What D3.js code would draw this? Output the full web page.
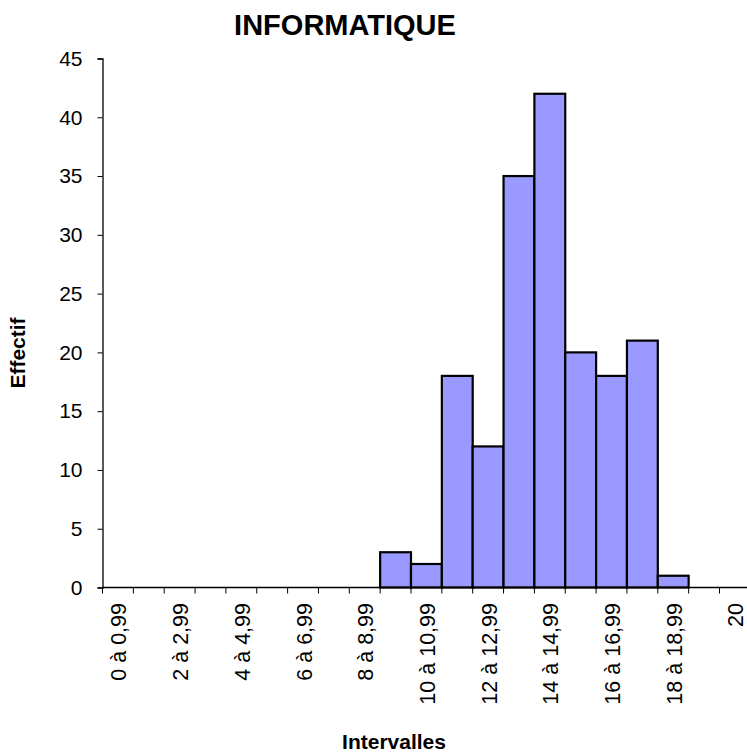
<!DOCTYPE html>
<html><head><meta charset="utf-8">
<script src="https://cdn.jsdelivr.net/npm/d3@7"></script>
<style>body{margin:0;background:#fff;} text{font-family:Arial,"Liberation Sans",sans-serif;}</style>
</head><body>
<svg id="c" width="747" height="754"></svg>
<script>
const categories = ["0 à 0,99","1 à 1,99","2 à 2,99","3 à 3,99","4 à 4,99","5 à 5,99","6 à 6,99","7 à 7,99","8 à 8,99","9 à 9,99","10 à 10,99","11 à 11,99","12 à 12,99","13 à 13,99","14 à 14,99","15 à 15,99","16 à 16,99","17 à 17,99","18 à 18,99","19 à 19,99","20"];
const values = [0,0,0,0,0,0,0,0,0,3,2,18,12,35,42,20,18,21,1,0,0];
const shownLabels = ["0 à 0,99","2 à 2,99","4 à 4,99","6 à 6,99","8 à 8,99","10 à 10,99","12 à 12,99","14 à 14,99","16 à 16,99","18 à 18,99","20"];
const yTicks = [0,5,10,15,20,25,30,35,40,45];

const svg = d3.select("#c");
const mLeft = 102.5, mTop = 58.5, mBottom = 587.5, bw = 30.85;
const mRight = mLeft + bw * categories.length;
const x = d3.scaleBand().domain(categories).range([mLeft, mRight]).padding(0);
const y = d3.scaleLinear().domain([0,45]).range([mBottom, mTop]);

// bars
svg.append("g").selectAll("rect").data(categories.map((c,i)=>({c,v:values[i]})).filter(d=>d.v>0))
  .enter().append("rect")
  .attr("x", d=>x(d.c)).attr("width", x.bandwidth())
  .attr("y", d=>y(d.v)).attr("height", d=>y(0)-y(d.v))
  .attr("fill","#9999FF").attr("stroke","#000").attr("stroke-width",2.2);

// y axis
const ya = svg.append("g").attr("transform",`translate(${mLeft},0)`)
  .call(d3.axisLeft(y).tickValues(yTicks).tickSize(5).tickPadding(15));
ya.select(".domain").attr("stroke","#000").attr("stroke-width",1.3);
ya.selectAll(".tick line").attr("stroke","#000");
ya.selectAll("text").attr("font-size",21).attr("fill","#000").attr("font-family","Arial, 'Liberation Sans', sans-serif");

// x axis line
svg.append("line").attr("x1",mLeft).attr("x2",747).attr("y1",mBottom).attr("y2",mBottom).attr("stroke","#000").attr("stroke-width",1.3);
// x ticks at boundaries
const bounds = d3.range(0, categories.length).map(i=>x(categories[i]));
svg.append("g").selectAll("line").data(bounds).enter().append("line")
  .attr("x1",d=>d).attr("x2",d=>d).attr("y1",mBottom).attr("y2",mBottom+6)
  .attr("stroke","#000").attr("stroke-width",1);

// x labels
svg.append("g").selectAll("text").data(shownLabels).enter().append("text")
  .attr("transform", d=>`translate(${x(d)+x.bandwidth()/2+8.5},${mBottom+15.5}) rotate(-90)`)
  .attr("text-anchor","end").attr("font-size",21.5).attr("fill","#000").text(d=>d);

// titles
svg.append("text").attr("x",345).attr("y",34.5).attr("text-anchor","middle")
  .attr("font-size",29).attr("font-weight","bold").text("INFORMATIQUE");
svg.append("text").attr("x",394).attr("y",749).attr("text-anchor","middle")
  .attr("font-size",21).attr("font-weight","bold").text("Intervalles");
svg.append("text").attr("transform","translate(25,353) rotate(-90)").attr("text-anchor","middle")
  .attr("font-size",21).attr("font-weight","bold").text("Effectif");
</script>
</body></html>
